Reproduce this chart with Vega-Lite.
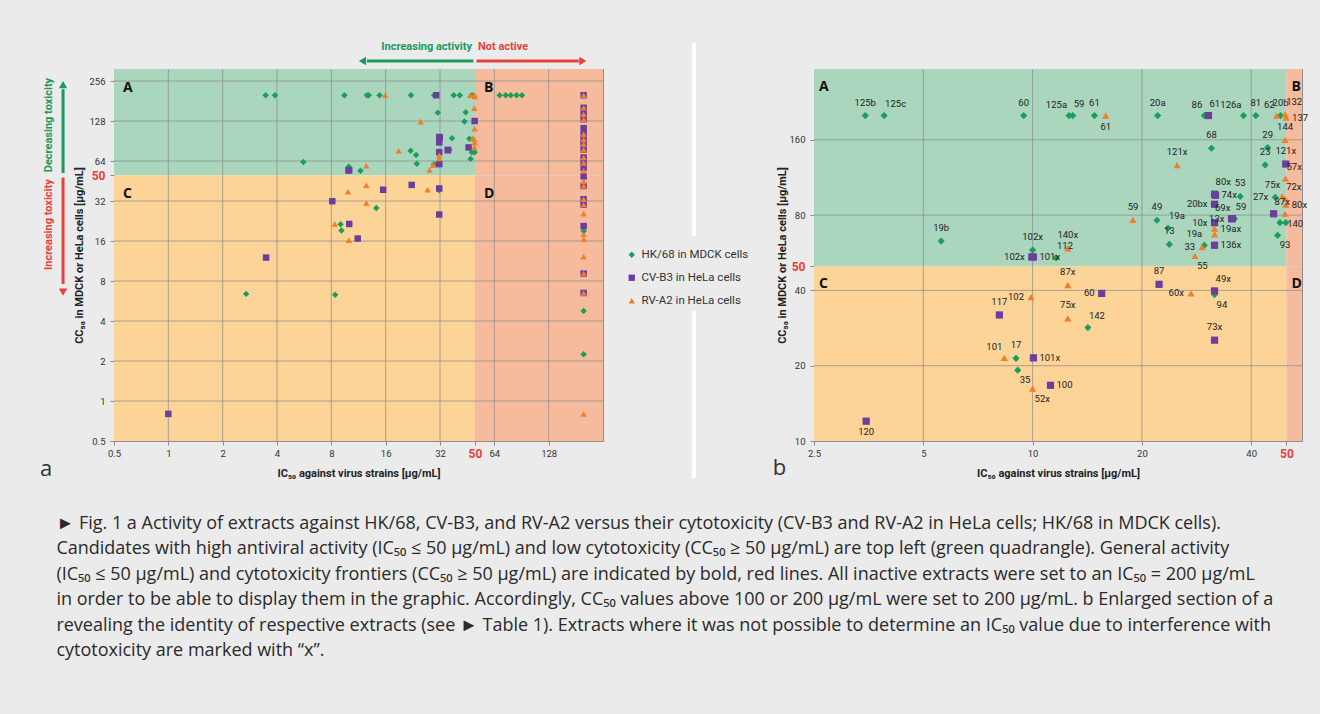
{
  "$schema": "https://vega.github.io/schema/vega-lite/v6.json",
  "background": "#ebebeb",
  "padding": {"left": 39, "top": 40, "right": 12, "bottom": 54},
  "datasets": {
    "extracts": [
      {"v":"HK/68 in MDCK cells","ic":3.46,"cc":200,"lab":"125b","pos":"t"},
      {"v":"HK/68 in MDCK cells","ic":3.9,"cc":200,"lab":"125c","pos":"tr"},
      {"v":"HK/68 in MDCK cells","ic":9.45,"cc":200,"lab":"60","pos":"t"},
      {"v":"HK/68 in MDCK cells","ic":12.6,"cc":200,"lab":"125a","pos":"tl"},
      {"v":"HK/68 in MDCK cells","ic":12.9,"cc":200,"lab":"59","pos":"tr"},
      {"v":"HK/68 in MDCK cells","ic":14.8,"cc":200,"lab":"61","pos":"t"},
      {"v":"HK/68 in MDCK cells","ic":22.1,"cc":200,"lab":"20a","pos":"t"},
      {"v":"HK/68 in MDCK cells","ic":29.7,"cc":200,"lab":"86","pos":"tl"},
      {"v":"HK/68 in MDCK cells","ic":38.1,"cc":200,"lab":"126a","pos":"tl"},
      {"v":"HK/68 in MDCK cells","ic":41.2,"cc":200,"lab":"81","pos":"t"},
      {"v":"HK/68 in MDCK cells","ic":48.2,"cc":200,"lab":"20b","pos":"t"},
      {"v":"HK/68 in MDCK cells","ic":31.1,"cc":148,"lab":"68","pos":"t"},
      {"v":"HK/68 in MDCK cells","ic":44.4,"cc":149,"lab":"29","pos":"t"},
      {"v":"HK/68 in MDCK cells","ic":43.7,"cc":127,"lab":"23","pos":"t"},
      {"v":"HK/68 in MDCK cells","ic":37.3,"cc":95,"lab":"53","pos":"t"},
      {"v":"HK/68 in MDCK cells","ic":36.0,"cc":77.4,"lab":"59","pos":"tr"},
      {"v":"HK/68 in MDCK cells","ic":22.0,"cc":76.3,"lab":"49","pos":"t"},
      {"v":"HK/68 in MDCK cells","ic":23.6,"cc":70.9,"lab":"19a","pos":"tr"},
      {"v":"HK/68 in MDCK cells","ic":23.8,"cc":61.1,"lab":"13","pos":"t"},
      {"v":"HK/68 in MDCK cells","ic":29.7,"cc":60.6,"lab":"19a","pos":"tl"},
      {"v":"HK/68 in MDCK cells","ic":46.6,"cc":94.2,"lab":"27x","pos":"l"},
      {"v":"HK/68 in MDCK cells","ic":48.0,"cc":74.6},
      {"v":"HK/68 in MDCK cells","ic":49.8,"cc":74.6},
      {"v":"HK/68 in MDCK cells","ic":47.3,"cc":66.4,"lab":"93","pos":"br"},
      {"v":"HK/68 in MDCK cells","ic":5.6,"cc":63,"lab":"19b","pos":"t"},
      {"v":"HK/68 in MDCK cells","ic":10.0,"cc":58,"lab":"102x","pos":"t"},
      {"v":"HK/68 in MDCK cells","ic":11.6,"cc":54,"lab":"112","pos":"tr"},
      {"v":"HK/68 in MDCK cells","ic":9.0,"cc":21.4,"lab":"17","pos":"t"},
      {"v":"HK/68 in MDCK cells","ic":9.1,"cc":19.2,"lab":"35","pos":"br"},
      {"v":"HK/68 in MDCK cells","ic":14.2,"cc":28.4,"lab":"142","pos":"tr"},
      {"v":"HK/68 in MDCK cells","ic":31.7,"cc":38.5,"lab":"94","pos":"br"},
      {"v":"HK/68 in MDCK cells","ic":2.7,"cc":6.4},
      {"v":"HK/68 in MDCK cells","ic":8.4,"cc":6.3},
      {"v":"HK/68 in MDCK cells","ic":68.5,"cc":200},
      {"v":"HK/68 in MDCK cells","ic":74,"cc":200},
      {"v":"HK/68 in MDCK cells","ic":79,"cc":200},
      {"v":"HK/68 in MDCK cells","ic":85,"cc":200},
      {"v":"HK/68 in MDCK cells","ic":91,"cc":200},
      {"v":"HK/68 in MDCK cells","ic":200,"cc":19},
      {"v":"HK/68 in MDCK cells","ic":200,"cc":4.76},
      {"v":"HK/68 in MDCK cells","ic":200,"cc":2.25},
      {"v":"CV-B3 in HeLa cells","ic":30.5,"cc":200,"lab":"61","pos":"tr"},
      {"v":"CV-B3 in HeLa cells","ic":49.8,"cc":128,"lab":"121x","pos":"t"},
      {"v":"CV-B3 in HeLa cells","ic":31.7,"cc":97,"lab":"80x","pos":"tr"},
      {"v":"CV-B3 in HeLa cells","ic":31.9,"cc":96,"lab":"74x","pos":"r"},
      {"v":"CV-B3 in HeLa cells","ic":31.7,"cc":88.4,"lab":"20bx","pos":"l"},
      {"v":"CV-B3 in HeLa cells","ic":31.7,"cc":74.6,"lab":"10x","pos":"l"},
      {"v":"CV-B3 in HeLa cells","ic":35.5,"cc":77.4,"lab":"69x","pos":"tl"},
      {"v":"CV-B3 in HeLa cells","ic":35.3,"cc":77.4,"lab":"13x","pos":"l"},
      {"v":"CV-B3 in HeLa cells","ic":31.7,"cc":60.6,"lab":"136x","pos":"r"},
      {"v":"CV-B3 in HeLa cells","ic":46.1,"cc":81,"lab":"87x","pos":"tr"},
      {"v":"CV-B3 in HeLa cells","ic":9.95,"cc":54.4,"lab":"102x","pos":"l"},
      {"v":"CV-B3 in HeLa cells","ic":10.05,"cc":54.4,"lab":"101x","pos":"r"},
      {"v":"CV-B3 in HeLa cells","ic":8.1,"cc":31.9,"lab":"117","pos":"t"},
      {"v":"CV-B3 in HeLa cells","ic":10.05,"cc":21.5,"lab":"101x","pos":"r"},
      {"v":"CV-B3 in HeLa cells","ic":11.2,"cc":16.7,"lab":"100","pos":"r"},
      {"v":"CV-B3 in HeLa cells","ic":3.48,"cc":12.0,"lab":"120","pos":"b"},
      {"v":"CV-B3 in HeLa cells","ic":15.5,"cc":38.9,"lab":"60","pos":"l"},
      {"v":"CV-B3 in HeLa cells","ic":22.3,"cc":42.3,"lab":"87","pos":"t"},
      {"v":"CV-B3 in HeLa cells","ic":31.7,"cc":39.8,"lab":"49x","pos":"tr"},
      {"v":"CV-B3 in HeLa cells","ic":31.7,"cc":25.3,"lab":"73x","pos":"t"},
      {"v":"CV-B3 in HeLa cells","ic":1.0,"cc":0.8},
      {"v":"CV-B3 in HeLa cells","ic":200,"cc":200},
      {"v":"CV-B3 in HeLa cells","ic":200,"cc":161},
      {"v":"CV-B3 in HeLa cells","ic":200,"cc":144},
      {"v":"CV-B3 in HeLa cells","ic":200,"cc":132},
      {"v":"CV-B3 in HeLa cells","ic":200,"cc":113},
      {"v":"CV-B3 in HeLa cells","ic":200,"cc":102},
      {"v":"CV-B3 in HeLa cells","ic":200,"cc":93},
      {"v":"CV-B3 in HeLa cells","ic":200,"cc":86},
      {"v":"CV-B3 in HeLa cells","ic":200,"cc":78},
      {"v":"CV-B3 in HeLa cells","ic":200,"cc":68},
      {"v":"CV-B3 in HeLa cells","ic":200,"cc":62},
      {"v":"CV-B3 in HeLa cells","ic":200,"cc":57},
      {"v":"CV-B3 in HeLa cells","ic":200,"cc":49},
      {"v":"CV-B3 in HeLa cells","ic":200,"cc":41.5},
      {"v":"CV-B3 in HeLa cells","ic":200,"cc":33},
      {"v":"CV-B3 in HeLa cells","ic":200,"cc":30},
      {"v":"CV-B3 in HeLa cells","ic":200,"cc":20.7},
      {"v":"CV-B3 in HeLa cells","ic":200,"cc":9.1},
      {"v":"CV-B3 in HeLa cells","ic":200,"cc":6.5},
      {"v":"RV-A2 in HeLa cells","ic":15.9,"cc":200,"lab":"61","pos":"b"},
      {"v":"RV-A2 in HeLa cells","ic":47.0,"cc":200,"lab":"62","pos":"tl"},
      {"v":"RV-A2 in HeLa cells","ic":49.6,"cc":202,"lab":"132","pos":"tr"},
      {"v":"RV-A2 in HeLa cells","ic":49.9,"cc":196,"lab":"137","pos":"r"},
      {"v":"RV-A2 in HeLa cells","ic":49.6,"cc":160,"lab":"144","pos":"t"},
      {"v":"RV-A2 in HeLa cells","ic":25.0,"cc":126.6,"lab":"121x","pos":"t"},
      {"v":"RV-A2 in HeLa cells","ic":49.7,"cc":112,"lab":"57x","pos":"tr"},
      {"v":"RV-A2 in HeLa cells","ic":48.7,"cc":95,"lab":"75x","pos":"tl"},
      {"v":"RV-A2 in HeLa cells","ic":49.6,"cc":93,"lab":"72x","pos":"tr"},
      {"v":"RV-A2 in HeLa cells","ic":49.8,"cc":88,"lab":"80x","pos":"r"},
      {"v":"RV-A2 in HeLa cells","ic":49.6,"cc":81,"lab":"140","pos":"br"},
      {"v":"RV-A2 in HeLa cells","ic":18.9,"cc":76.5,"lab":"59","pos":"t"},
      {"v":"RV-A2 in HeLa cells","ic":31.7,"cc":70.6,"lab":"19ax","pos":"r"},
      {"v":"RV-A2 in HeLa cells","ic":31.7,"cc":67},
      {"v":"RV-A2 in HeLa cells","ic":29.3,"cc":59.6,"lab":"33","pos":"l"},
      {"v":"RV-A2 in HeLa cells","ic":28.0,"cc":54.9,"lab":"55","pos":"br"},
      {"v":"RV-A2 in HeLa cells","ic":12.5,"cc":58.9,"lab":"140x","pos":"t"},
      {"v":"RV-A2 in HeLa cells","ic":12.5,"cc":42,"lab":"87x","pos":"t"},
      {"v":"RV-A2 in HeLa cells","ic":12.5,"cc":30.9,"lab":"75x","pos":"t"},
      {"v":"RV-A2 in HeLa cells","ic":27.3,"cc":38.9,"lab":"60x","pos":"l"},
      {"v":"RV-A2 in HeLa cells","ic":9.9,"cc":37.6,"lab":"102","pos":"l"},
      {"v":"RV-A2 in HeLa cells","ic":8.36,"cc":21.5,"lab":"101","pos":"tl"},
      {"v":"RV-A2 in HeLa cells","ic":10.0,"cc":16.2,"lab":"52x","pos":"br"},
      {"v":"RV-A2 in HeLa cells","ic":200,"cc":200},
      {"v":"RV-A2 in HeLa cells","ic":200,"cc":161},
      {"v":"RV-A2 in HeLa cells","ic":200,"cc":144},
      {"v":"RV-A2 in HeLa cells","ic":200,"cc":132},
      {"v":"RV-A2 in HeLa cells","ic":200,"cc":102},
      {"v":"RV-A2 in HeLa cells","ic":200,"cc":93},
      {"v":"RV-A2 in HeLa cells","ic":200,"cc":86},
      {"v":"RV-A2 in HeLa cells","ic":200,"cc":78},
      {"v":"RV-A2 in HeLa cells","ic":200,"cc":68},
      {"v":"RV-A2 in HeLa cells","ic":200,"cc":62},
      {"v":"RV-A2 in HeLa cells","ic":200,"cc":54},
      {"v":"RV-A2 in HeLa cells","ic":200,"cc":45},
      {"v":"RV-A2 in HeLa cells","ic":200,"cc":41.5},
      {"v":"RV-A2 in HeLa cells","ic":200,"cc":33},
      {"v":"RV-A2 in HeLa cells","ic":200,"cc":30},
      {"v":"RV-A2 in HeLa cells","ic":200,"cc":25.7},
      {"v":"RV-A2 in HeLa cells","ic":200,"cc":18},
      {"v":"RV-A2 in HeLa cells","ic":200,"cc":16.5},
      {"v":"RV-A2 in HeLa cells","ic":200,"cc":12.2},
      {"v":"RV-A2 in HeLa cells","ic":200,"cc":9.1},
      {"v":"RV-A2 in HeLa cells","ic":200,"cc":6.5},
      {"v":"RV-A2 in HeLa cells","ic":200,"cc":0.8}
    ],
    "regA": [
      {"q":"A","x1":0.5,"x2":50,"y1":50,"y2":315.2},
      {"q":"B","x1":50,"x2":256,"y1":50,"y2":315.2},
      {"q":"C","x1":0.5,"x2":50,"y1":0.5,"y2":50},
      {"q":"D","x1":50,"x2":256,"y1":0.5,"y2":50}
    ],
    "regB": [
      {"q":"A","x1":2.5,"x2":50,"y1":50,"y2":307},
      {"q":"B","x1":50,"x2":55.2,"y1":50,"y2":307},
      {"q":"C","x1":2.5,"x2":50,"y1":10,"y2":50},
      {"q":"D","x1":50,"x2":55.2,"y1":10,"y2":50}
    ],
    "gridAx": [{"v":1},{"v":2},{"v":4},{"v":8},{"v":16},{"v":32},{"v":64},{"v":128}],
    "gridAy": [{"v":1},{"v":2},{"v":4},{"v":8},{"v":16},{"v":32},{"v":64},{"v":128},{"v":256}],
    "gridBx": [{"v":5},{"v":10},{"v":20},{"v":40}],
    "gridBy": [{"v":20},{"v":40},{"v":80},{"v":160}],
    "separator": [{"x": 1.167, "y": 390, "y2": 66}, {"x": 1.167, "y": 33, "y2": 7.1}]
  },
  "hconcat": [
    {
      "width": 489,
      "height": 372,
      "layer": [
        {
          "data": {"name": "regA"},
          "mark": {"type": "rect"},
          "encoding": {
            "x": {"field": "x1", "type": "quantitative", "scale": {"type": "log", "base": 2, "domain": [0.5, 256], "nice": false},
              "axis": {"title": "IC₅₀ against virus strains [µg/mL]", "values": [0.5, 1, 2, 4, 8, 16, 32, 50, 64, 128], "labelExpr": "datum.value", "titleX": 244.5, "titleY": 32, "titleBaseline": "middle",
                "labelColor": {"condition": {"test": "datum.value == 50", "value": "#e8403a"}, "value": "#333333"},
                "labelFontSize": {"condition": {"test": "datum.value == 50", "value": 12}, "value": 9.5},
                "labelFontWeight": {"condition": {"test": "datum.value == 50", "value": "bold"}, "value": "normal"}}},
            "x2": {"field": "x2"},
            "y": {"field": "y1", "type": "quantitative", "scale": {"type": "log", "base": 2, "domain": [0.5, 315.2], "nice": false},
              "axis": {"title": "CC₅₀ in MDCK or HeLa cells [µg/mL]", "values": [0.5, 1, 2, 4, 8, 16, 32, 50, 64, 128, 256], "labelExpr": "datum.value", "titleX": -35, "titleY": 186, "titleBaseline": "middle",
                "labelColor": {"condition": {"test": "datum.value == 50", "value": "#e8403a"}, "value": "#333333"},
                "labelFontSize": {"condition": {"test": "datum.value == 50", "value": 12}, "value": 9.5},
                "labelFontWeight": {"condition": {"test": "datum.value == 50", "value": "bold"}, "value": "normal"}}},
            "y2": {"field": "y2"},
            "fill": {"field": "q", "type": "nominal", "scale": {"domain": ["A", "B", "C", "D"], "range": ["#aad6be", "#f6bb9c", "#fcd498", "#f6bb9c"]}, "legend": null}
          }
        },
        {
          "data": {"name": "gridAx"},
          "mark": {"type": "rule", "color": "#8a8a8a", "strokeWidth": 1, "opacity": 0.7},
          "encoding": {"x": {"field": "v", "type": "quantitative"}}
        },
        {
          "data": {"name": "gridAy"},
          "mark": {"type": "rule", "color": "#8a8a8a", "strokeWidth": 1, "opacity": 0.7},
          "encoding": {"y": {"field": "v", "type": "quantitative"}}
        },
        {
          "mark": {"type": "rule", "color": "#e8403a", "strokeWidth": 3},
          "encoding": {"x": {"datum": 50, "type": "quantitative"}}
        },
        {
          "mark": {"type": "rule", "color": "#e8403a", "strokeWidth": 3},
          "encoding": {"y": {"datum": 50, "type": "quantitative"}}
        },
        {
          "data": {"name": "extracts"},
          "mark": {"type": "point", "filled": true, "opacity": 1, "size": 42, "strokeWidth": 0},
          "encoding": {
            "x": {"field": "ic", "type": "quantitative"},
            "y": {"field": "cc", "type": "quantitative"},
            "color": {"field": "v", "type": "nominal", "scale": {"domain": ["HK/68 in MDCK cells", "CV-B3 in HeLa cells", "RV-A2 in HeLa cells"], "range": ["#1a9e5a", "#6b3e9e", "#f07f2a"]},
              "legend": {"title": null, "orient": "none", "legendX": 512, "legendY": 180, "padding": 0, "rowPadding": 10, "labelFont": "Roboto", "labelFontSize": 11.5, "labelColor": "#333333", "symbolSize": 40, "labelOffset": 4}},
            "shape": {"field": "v", "type": "nominal", "scale": {"domain": ["HK/68 in MDCK cells", "CV-B3 in HeLa cells", "RV-A2 in HeLa cells"], "range": ["diamond", "square", "triangle-up"]},
              "legend": {"title": null, "orient": "none", "legendX": 512, "legendY": 180, "padding": 0, "rowPadding": 10, "labelFont": "Roboto", "labelFontSize": 11.5, "labelColor": "#333333", "symbolSize": 40, "labelOffset": 4}}
          }
        },
        {
          "data": {"name": "regA"},
          "mark": {"type": "text", "align": "left", "baseline": "middle", "dx": 9, "dy": 19, "fontSize": 14, "fontWeight": "bold", "font": "Open Sans", "color": "#111111"},
          "encoding": {"x": {"field": "x1", "type": "quantitative"}, "y": {"field": "y2", "type": "quantitative"}, "text": {"field": "q"}}
        },
        {
          "data": {"values": [{"x": 50, "y": 315.2, "t": "Increasing activity"}]},
          "mark": {"type": "text", "align": "right", "baseline": "middle", "dx": -3, "dy": -22, "font": "Roboto", "fontSize": 11, "fontWeight": "bold", "color": "#1a9a5c"},
          "encoding": {"x": {"field": "x", "type": "quantitative"}, "y": {"field": "y", "type": "quantitative"}, "text": {"field": "t"}}
        },
        {
          "data": {"values": [{"x": 50, "y": 315.2, "t": "Not active"}]},
          "mark": {"type": "text", "align": "left", "baseline": "middle", "dx": 3, "dy": -22, "font": "Roboto", "fontSize": 11, "fontWeight": "bold", "color": "#e8403a"},
          "encoding": {"x": {"field": "x", "type": "quantitative"}, "y": {"field": "y", "type": "quantitative"}, "text": {"field": "t"}}
        },
        {
          "data": {"values": [{"x": 49, "x2": 12.6, "y": 362}]},
          "mark": {"type": "rule", "color": "#1a9a5c", "strokeWidth": 3},
          "encoding": {"x": {"field": "x", "type": "quantitative"}, "x2": {"field": "x2"}, "y": {"field": "y", "type": "quantitative"}}
        },
        {
          "data": {"values": [{"x": 11.9, "y": 362}]},
          "mark": {"type": "point", "shape": "triangle-left", "filled": true, "opacity": 1, "color": "#1a9a5c", "size": 70},
          "encoding": {"x": {"field": "x", "type": "quantitative"}, "y": {"field": "y", "type": "quantitative"}}
        },
        {
          "data": {"values": [{"x": 51, "x2": 188, "y": 362}]},
          "mark": {"type": "rule", "color": "#e8403a", "strokeWidth": 3},
          "encoding": {"x": {"field": "x", "type": "quantitative"}, "x2": {"field": "x2"}, "y": {"field": "y", "type": "quantitative"}}
        },
        {
          "data": {"values": [{"x": 198, "y": 362}]},
          "mark": {"type": "point", "shape": "triangle-right", "filled": true, "opacity": 1, "color": "#e8403a", "size": 70},
          "encoding": {"x": {"field": "x", "type": "quantitative"}, "y": {"field": "y", "type": "quantitative"}}
        },
        {
          "data": {"values": [{"x": 0.218, "y": 50, "t": "Decreasing toxicity"}]},
          "mark": {"type": "text", "angle": 270, "align": "left", "baseline": "middle", "dx": 3, "font": "Roboto", "fontSize": 11, "fontWeight": "bold", "color": "#1a9a5c"},
          "encoding": {"x": {"field": "x", "type": "quantitative"}, "y": {"field": "y", "type": "quantitative"}, "text": {"field": "t"}}
        },
        {
          "data": {"values": [{"x": 0.218, "y": 50, "t": "Increasing toxicity"}]},
          "mark": {"type": "text", "angle": 270, "align": "right", "baseline": "middle", "dx": -4, "font": "Roboto", "fontSize": 11, "fontWeight": "bold", "color": "#e8403a"},
          "encoding": {"x": {"field": "x", "type": "quantitative"}, "y": {"field": "y", "type": "quantitative"}, "text": {"field": "t"}}
        },
        {
          "data": {"values": [{"x": 0.261, "y": 52, "y2": 222}]},
          "mark": {"type": "rule", "color": "#1a9a5c", "strokeWidth": 3},
          "encoding": {"x": {"field": "x", "type": "quantitative"}, "y": {"field": "y", "type": "quantitative"}, "y2": {"field": "y2"}}
        },
        {
          "data": {"values": [{"x": 0.261, "y": 240}]},
          "mark": {"type": "point", "shape": "triangle-up", "filled": true, "opacity": 1, "color": "#1a9a5c", "size": 70},
          "encoding": {"x": {"field": "x", "type": "quantitative"}, "y": {"field": "y", "type": "quantitative"}}
        },
        {
          "data": {"values": [{"x": 0.261, "y": 48, "y2": 7.6}]},
          "mark": {"type": "rule", "color": "#e8403a", "strokeWidth": 3},
          "encoding": {"x": {"field": "x", "type": "quantitative"}, "y": {"field": "y", "type": "quantitative"}, "y2": {"field": "y2"}}
        },
        {
          "data": {"values": [{"x": 0.261, "y": 6.6}]},
          "mark": {"type": "point", "shape": "triangle-down", "filled": true, "opacity": 1, "color": "#e8403a", "size": 70},
          "encoding": {"x": {"field": "x", "type": "quantitative"}, "y": {"field": "y", "type": "quantitative"}}
        },
        {
          "data": {"values": [{"x": 0.21, "y": 0.308, "t": "a"}]},
          "mark": {"type": "text", "align": "center", "baseline": "middle", "font": "Open Sans", "fontSize": 22, "color": "#333333"},
          "encoding": {"x": {"field": "x", "type": "quantitative"}, "y": {"field": "y", "type": "quantitative"}, "text": {"field": "t"}}
        }
      ]
    },
    {
      "width": 488,
      "height": 372,
      "layer": [
        {
          "data": {"name": "regB"},
          "mark": {"type": "rect"},
          "encoding": {
            "x": {"field": "x1", "type": "quantitative", "scale": {"type": "log", "base": 2, "domain": [2.5, 55.2], "nice": false},
              "axis": {"title": "IC₅₀ against virus strains [µg/mL]", "values": [2.5, 5, 10, 20, 40, 50], "labelExpr": "datum.value", "titleX": 244, "titleY": 32, "titleBaseline": "middle",
                "labelColor": {"condition": {"test": "datum.value == 50", "value": "#e8403a"}, "value": "#333333"},
                "labelFontSize": {"condition": {"test": "datum.value == 50", "value": 12}, "value": 9.5},
                "labelFontWeight": {"condition": {"test": "datum.value == 50", "value": "bold"}, "value": "normal"}}},
            "x2": {"field": "x2"},
            "y": {"field": "y1", "type": "quantitative", "scale": {"type": "log", "base": 2, "domain": [10, 307], "nice": false},
              "axis": {"title": "CC₅₀ in MDCK or HeLa cells [µg/mL]", "values": [10, 20, 40, 50, 80, 160], "labelExpr": "datum.value", "titleX": -32, "titleY": 186, "titleBaseline": "middle",
                "labelColor": {"condition": {"test": "datum.value == 50", "value": "#e8403a"}, "value": "#333333"},
                "labelFontSize": {"condition": {"test": "datum.value == 50", "value": 12}, "value": 9.5},
                "labelFontWeight": {"condition": {"test": "datum.value == 50", "value": "bold"}, "value": "normal"}}},
            "y2": {"field": "y2"},
            "fill": {"field": "q", "type": "nominal", "scale": {"domain": ["A", "B", "C", "D"], "range": ["#aad6be", "#f6bb9c", "#fcd498", "#f6bb9c"]}, "legend": null}
          }
        },
        {
          "data": {"name": "separator"},
          "mark": {"type": "rule", "color": "#ffffff", "strokeWidth": 4},
          "encoding": {"x": {"field": "x", "type": "quantitative"}, "y": {"field": "y", "type": "quantitative"}, "y2": {"field": "y2"}}
        },
        {
          "data": {"name": "gridBx"},
          "mark": {"type": "rule", "color": "#8a8a8a", "strokeWidth": 1, "opacity": 0.7},
          "encoding": {"x": {"field": "v", "type": "quantitative"}}
        },
        {
          "data": {"name": "gridBy"},
          "mark": {"type": "rule", "color": "#8a8a8a", "strokeWidth": 1, "opacity": 0.7},
          "encoding": {"y": {"field": "v", "type": "quantitative"}}
        },
        {
          "mark": {"type": "rule", "color": "#e8403a", "strokeWidth": 3},
          "encoding": {"x": {"datum": 50, "type": "quantitative"}}
        },
        {
          "mark": {"type": "rule", "color": "#e8403a", "strokeWidth": 3},
          "encoding": {"y": {"datum": 50, "type": "quantitative"}}
        },
        {
          "data": {"name": "extracts"},
          "transform": [{"filter": "datum.ic >= 2.5 && datum.ic <= 55.2 && datum.cc >= 10 && datum.cc <= 307"}],
          "mark": {"type": "point", "filled": true, "opacity": 1, "size": 52, "strokeWidth": 0},
          "encoding": {
            "x": {"field": "ic", "type": "quantitative"},
            "y": {"field": "cc", "type": "quantitative"},
            "color": {"field": "v", "type": "nominal", "scale": {"domain": ["HK/68 in MDCK cells", "CV-B3 in HeLa cells", "RV-A2 in HeLa cells"], "range": ["#1a9e5a", "#6b3e9e", "#f07f2a"]},
              "legend": {"title": null, "orient": "none", "legendX": 512, "legendY": 180, "padding": 0, "rowPadding": 10, "labelFont": "Roboto", "labelFontSize": 11.5, "labelColor": "#333333", "symbolSize": 40, "labelOffset": 4}},
            "shape": {"field": "v", "type": "nominal", "scale": {"domain": ["HK/68 in MDCK cells", "CV-B3 in HeLa cells", "RV-A2 in HeLa cells"], "range": ["diamond", "square", "triangle-up"]},
              "legend": {"title": null, "orient": "none", "legendX": 512, "legendY": 180, "padding": 0, "rowPadding": 10, "labelFont": "Roboto", "labelFontSize": 11.5, "labelColor": "#333333", "symbolSize": 40, "labelOffset": 4}}
          }
        },
        {
          "data": {"name": "extracts"},
          "transform": [{"filter": "datum.ic >= 2.5 && datum.ic <= 55.2 && datum.cc >= 10 && datum.pos == 't'"}],
          "mark": {"type": "text", "align": "center", "baseline": "middle", "dy": -13, "font": "Roboto", "fontSize": 9.5, "color": "#222222"},
          "encoding": {"x": {"field": "ic", "type": "quantitative"}, "y": {"field": "cc", "type": "quantitative"}, "text": {"field": "lab"}}
        },
        {
          "data": {"name": "extracts"},
          "transform": [{"filter": "datum.ic >= 2.5 && datum.ic <= 55.2 && datum.cc >= 10 && datum.pos == 'b'"}],
          "mark": {"type": "text", "align": "center", "baseline": "middle", "dy": 11, "font": "Roboto", "fontSize": 9.5, "color": "#222222"},
          "encoding": {"x": {"field": "ic", "type": "quantitative"}, "y": {"field": "cc", "type": "quantitative"}, "text": {"field": "lab"}}
        },
        {
          "data": {"name": "extracts"},
          "transform": [{"filter": "datum.ic >= 2.5 && datum.ic <= 55.2 && datum.cc >= 10 && datum.pos == 'l'"}],
          "mark": {"type": "text", "align": "right", "baseline": "middle", "dx": -7, "font": "Roboto", "fontSize": 9.5, "color": "#222222"},
          "encoding": {"x": {"field": "ic", "type": "quantitative"}, "y": {"field": "cc", "type": "quantitative"}, "text": {"field": "lab"}}
        },
        {
          "data": {"name": "extracts"},
          "transform": [{"filter": "datum.ic >= 2.5 && datum.ic <= 55.2 && datum.cc >= 10 && datum.pos == 'r'"}],
          "mark": {"type": "text", "align": "left", "baseline": "middle", "dx": 6, "font": "Roboto", "fontSize": 9.5, "color": "#222222"},
          "encoding": {"x": {"field": "ic", "type": "quantitative"}, "y": {"field": "cc", "type": "quantitative"}, "text": {"field": "lab"}}
        },
        {
          "data": {"name": "extracts"},
          "transform": [{"filter": "datum.ic >= 2.5 && datum.ic <= 55.2 && datum.cc >= 10 && datum.pos == 'tl'"}],
          "mark": {"type": "text", "align": "right", "baseline": "middle", "dx": -2, "dy": -11, "font": "Roboto", "fontSize": 9.5, "color": "#222222"},
          "encoding": {"x": {"field": "ic", "type": "quantitative"}, "y": {"field": "cc", "type": "quantitative"}, "text": {"field": "lab"}}
        },
        {
          "data": {"name": "extracts"},
          "transform": [{"filter": "datum.ic >= 2.5 && datum.ic <= 55.2 && datum.cc >= 10 && datum.pos == 'tr'"}],
          "mark": {"type": "text", "align": "left", "baseline": "middle", "dx": 1, "dy": -12, "font": "Roboto", "fontSize": 9.5, "color": "#222222"},
          "encoding": {"x": {"field": "ic", "type": "quantitative"}, "y": {"field": "cc", "type": "quantitative"}, "text": {"field": "lab"}}
        },
        {
          "data": {"name": "extracts"},
          "transform": [{"filter": "datum.ic >= 2.5 && datum.ic <= 55.2 && datum.cc >= 10 && datum.pos == 'br'"}],
          "mark": {"type": "text", "align": "left", "baseline": "middle", "dx": 2, "dy": 10, "font": "Roboto", "fontSize": 9.5, "color": "#222222"},
          "encoding": {"x": {"field": "ic", "type": "quantitative"}, "y": {"field": "cc", "type": "quantitative"}, "text": {"field": "lab"}}
        },
        {
          "data": {"name": "regB"},
          "mark": {"type": "text", "align": "left", "baseline": "middle", "dx": 5, "dy": 18, "fontSize": 14, "fontWeight": "bold", "font": "Open Sans", "color": "#111111"},
          "encoding": {"x": {"field": "x1", "type": "quantitative"}, "y": {"field": "y2", "type": "quantitative"}, "text": {"field": "q"}}
        },
        {
          "data": {"values": [{"x": 2.01, "y": 7.8, "t": "b"}]},
          "mark": {"type": "text", "align": "center", "baseline": "middle", "font": "Open Sans", "fontSize": 22, "color": "#333333"},
          "encoding": {"x": {"field": "x", "type": "quantitative"}, "y": {"field": "y", "type": "quantitative"}, "text": {"field": "t"}}
        }
      ]
    }
  ],
  "spacing": 211,
  "bounds": "flush",
  "resolve": {"scale": {"color": "shared", "shape": "shared", "fill": "shared"}},
  "title": {
    "text": [
      "► Fig. 1  a  Activity of extracts against HK/68, CV-B3, and RV-A2 versus their cytotoxicity (CV-B3 and RV-A2 in HeLa cells; HK/68 in MDCK cells).",
      "Candidates with high antiviral activity (IC₅₀ ≤ 50 µg/mL) and low cytotoxicity (CC₅₀ ≥ 50 µg/mL) are top left (green quadrangle). General activity",
      "(IC₅₀ ≤ 50 µg/mL) and cytotoxicity frontiers (CC₅₀ ≥ 50 µg/mL) are indicated by bold, red lines. All inactive extracts were set to an IC₅₀ = 200 µg/mL",
      "in order to be able to display them in the graphic. Accordingly, CC₅₀ values above 100 or 200 µg/mL were set to 200 µg/mL. b  Enlarged section of a",
      "revealing the identity of respective extracts (see ► Table 1). Extracts where it was not possible to determine an IC₅₀ value due to interference with",
      "cytotoxicity are marked with “x”."
    ],
    "orient": "bottom",
    "anchor": "start",
    "frame": "bounds",
    "offset": 34,
    "dx": 17,
    "font": "Open Sans",
    "fontSize": 18,
    "fontWeight": "normal",
    "color": "#2a2a2a",
    "lineHeight": 25.5
  },
  "config": {
    "font": "Roboto",
    "view": {"stroke": "#8c8c8c", "strokeWidth": 1},
    "axis": {"grid": false, "domain": false, "ticks": true, "tickSize": 4, "tickColor": "#8c8c8c", "labelPadding": 3, "labelFont": "Roboto", "labelFontSize": 9.5, "labelColor": "#333333", "labelOverlap": false, "labelFlush": false, "titleFont": "Roboto", "titleFontSize": 11, "titleFontWeight": "bold", "titleColor": "#222222"},
    "axisY": {"labelPadding": 5}
  }
}
